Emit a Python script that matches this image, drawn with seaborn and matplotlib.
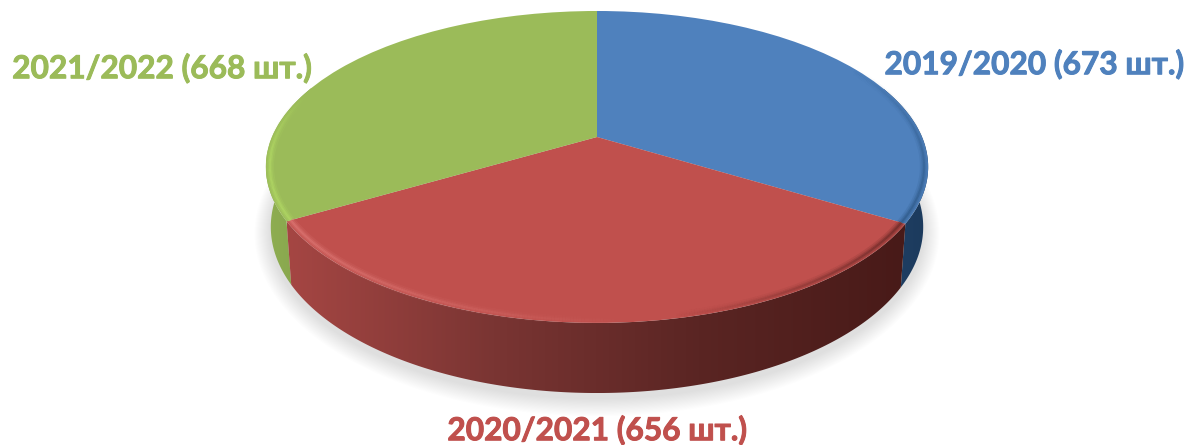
import numpy as np
import matplotlib
matplotlib.use("Agg")
import matplotlib.pyplot as plt
import matplotlib.patheffects as pe
import seaborn as sns
from matplotlib.transforms import Transform
from matplotlib.patches import Polygon
from matplotlib.collections import LineCollection
from matplotlib.colors import LinearSegmentedColormap, to_rgb

seasons = ["2019/2020", "2020/2021", "2021/2022"]
counts = [673, 656, 668]
unit = "шт."
top_colors = ["#4F81BD", "#C0504D", "#9BBB59"]
wall_stops = [
    ["#1F4066", "#1C3A5C"],
    ["#A54643", "#7A3533", "#5A2523", "#481A18"],
    ["#8FAE52", "#84A24B"],
]
label_xy = [(1034, 64), (597, 430), (162, 68)]

sns.set_theme(style="white", palette=top_colors)
plt.rcParams["font.family"] = ["Lato", "Open Sans", "DejaVu Sans"]

# viewing geometry of the tilted disc (pixels around the pie apex)
P, RX, RY = 0.192, 325.0, 150.2
BX, BY, BD = 0.985, 160.0, 58.0


def project(x, y, sx=RX, sy=RY, dy=0.0):
    w = 1 + P * y
    return sx * x / w, sy * y / w - dy


class Tilt(Transform):
    input_dims = output_dims = 2
    has_inverse = False

    def transform_non_affine(self, values):
        v = np.asarray(values, float)
        return np.column_stack(project(v[:, 0], v[:, 1]))


def arc(t1, t2, n=200, r=1.0):
    t = np.radians(np.linspace(t1, t2, n))
    return r * np.cos(t), r * np.sin(t)


fig, ax = plt.subplots(figsize=(11.88, 4.45), dpi=100)
fig.subplots_adjust(0, 0, 1, 1)
wedges, _ = ax.pie(counts, colors=top_colors, startangle=90, counterclock=False,
                   wedgeprops=dict(linewidth=0, edgecolor="none"))
ax.set_aspect("auto")
XL, YL = (-597, 591), (-308, 137)

# soft ground shadow
cx, cy = arc(0, 360, 400)
for grow in np.linspace(16, 1, 16):
    sx_, sy_ = project(cx, cy, RX * BX, BY, BD + 5)
    cen = sy_.mean()
    fx = 1 + grow / (RX * BX)
    fy = 1 + grow / BY
    ax.add_patch(Polygon(np.column_stack((sx_ * fx, cen + (sy_ - cen) * fy)),
                         fc="#000000", ec="none", alpha=0.009, zorder=1))

# side walls: gradient images clipped to the extruded outer arc
order = [0, 2, 1]
for i in order:
    w = wedges[i]
    ax_, ay_ = arc(w.theta1, w.theta2)
    keep = ay_ < 0.35
    if i != 1:
        ax_, ay_ = ax_[keep], ay_[keep]
    tx, ty = project(ax_, ay_)
    bx, by = project(ax_, ay_, RX * BX, BY, BD)
    poly = np.vstack((np.column_stack((tx, ty)), np.column_stack((bx, by))[::-1]))
    cmap = LinearSegmentedColormap.from_list(f"w{i}", wall_stops[i])
    x0, x1 = poly[:, 0].min(), poly[:, 0].max()
    y0, y1 = poly[:, 1].min(), poly[:, 1].max()
    im = ax.imshow(np.linspace(0, 1, 256)[None, :], cmap=cmap, extent=(x0, x1, y0, y1),
                   aspect="auto", zorder=2 + order.index(i), interpolation="bilinear")
    clip = Polygon(poly, transform=ax.transData, fc="none", ec="none")
    ax.add_patch(clip)
    im.set_clip_path(clip)

# top face
tilt = Tilt()
for w in wedges:
    w.set_transform(tilt + ax.transData)
    w.set_zorder(6)
    w.set_clip_on(False)


def rim(w, colour, strength, r=0.988):
    x, y = arc(w.theta1, w.theta2, 300, r)
    px, py = project(x, y)
    pts = np.column_stack((px, py))
    segs = np.stack((pts[:-1], pts[1:]), axis=1)
    s = np.linspace(0, 1, len(segs))
    rgb = to_rgb(colour)
    for lw, k in ((6.0, 0.18), (3.5, 0.3), (1.5, 0.5)):
        cols = [(*rgb, float(np.clip(strength(v) * k, 0, 1))) for v in s]
        ax.add_collection(LineCollection(segs, colors=cols, linewidths=lw, zorder=7,
                                         capstyle="butt"))


# s runs counter-clockwise along each slice
rim(wedges[0], "#2B5582", lambda s: np.clip(1 - s / 0.5, 0, 1))
rim(wedges[1], "#E27C79", lambda s: np.clip(1 - s / 0.55, 0, 1))
rim(wedges[1], "#5E2422", lambda s: np.clip((s - 0.6) / 0.4, 0, 1))
rim(wedges[2], "#B4DC66", lambda s: np.clip((s - 0.6) / 0.2, 0, 1))

for name, n, col, (lx, ly) in zip(seasons, counts, top_colors, label_xy):
    ax.text(lx - 597, 137 - ly, f"{name} ({n} {unit})", color=col, fontsize=22.8,
            fontweight="bold", ha="center", va="center", zorder=10,
            path_effects=[pe.withStroke(linewidth=0.7, foreground=col)])

ax.set_xlim(*XL)
ax.set_ylim(*YL)
ax.axis("off")
fig.savefig("out.png", dpi=100, facecolor="white")
